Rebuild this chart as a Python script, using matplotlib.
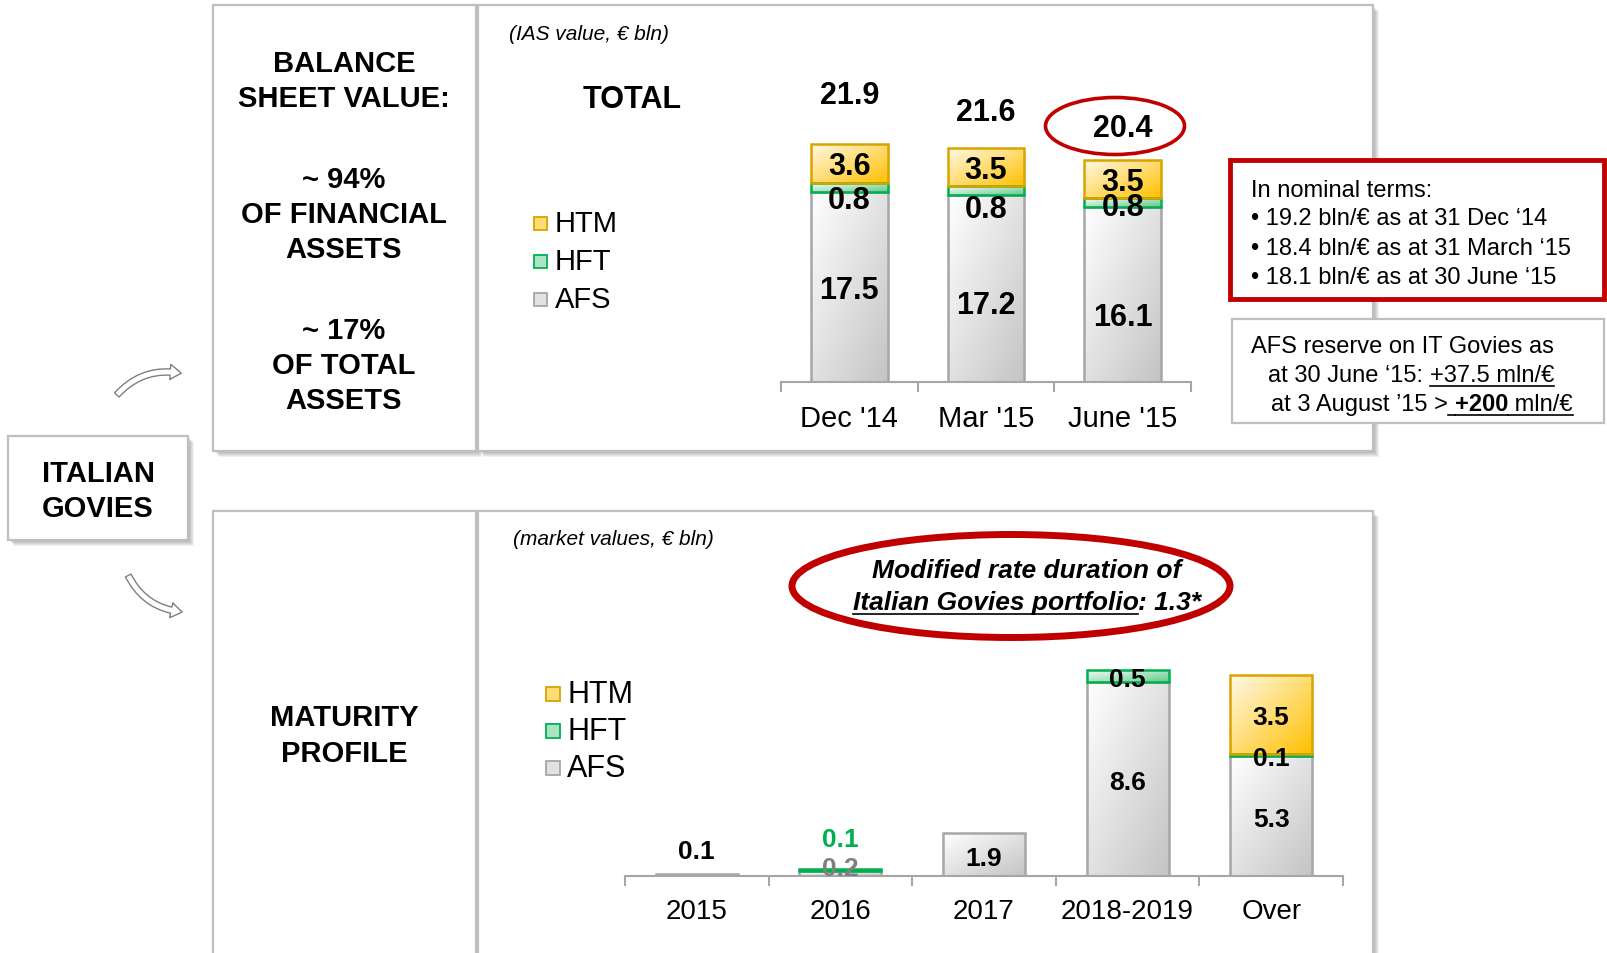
import numpy as np
import matplotlib
matplotlib.use("Agg")
import matplotlib.pyplot as plt
import matplotlib.colors as mcolors
import matplotlib.transforms as mtransforms
from matplotlib.patches import Rectangle, Ellipse, FancyArrowPatch

plt.rcParams["font.family"] = ["Liberation Sans", "DejaVu Sans"]

# ---------------- data ----------------
periods = ["Dec '14", "Mar '15", "June '15"]
afs_bs = [17.5, 17.2, 16.1]
hft_bs = [0.8, 0.8, 0.8]
htm_bs = [3.6, 3.5, 3.5]
total_bs = [21.9, 21.6, 20.4]

buckets = ["2015", "2016", "2017", "2018-2019", "Over"]
afs_mat = [0.1, 0.2, 1.9, 8.6, 5.3]
hft_mat = [0.0, 0.1, 0.0, 0.5, 0.1]
htm_mat = [0.0, 0.0, 0.0, 0.0, 3.5]

legend_labels = ["HTM", "HFT", "AFS"]
left_top_lines = ["BALANCE", "SHEET VALUE:", "~ 94%", "OF FINANCIAL", "ASSETS",
                  "~ 17%", "OF TOTAL", "ASSETS"]
nominal_lines = ["In nominal terms:",
                 "\u2022 19.2 bln/\u20ac as at 31 Dec \u201814",
                 "\u2022 18.4 bln/\u20ac as at 31 March \u201815",
                 "\u2022 18.1 bln/\u20ac as at 30 June \u201815"]

# ---------------- styles ----------------
C_AFS = ("#FFFFFF", "#C4C4C4", "#A6A6A6")
C_HFT = ("#F4FCF7", "#62CC8C", "#00B050")
C_HTM = ("#FFFAEA", "#FFC000", "#D9A400")
RED = "#C00000"
BORDER = "#BFBFBF"
DY = 3  # vertical text nudge in pixels

W, H = 1607, 954
fig = plt.figure(figsize=(W / 100, H / 100), dpi=100)
bg = fig.add_axes([0, 0, 1, 1])
bg.set_xlim(0, W)
bg.set_ylim(H, 0)
bg.axis("off")
bg.set_zorder(0)


def T(x, y, s, **kw):
    kw.setdefault("va", "center")
    kw.setdefault("zorder", 5)
    return bg.text(x, y + DY, s, **kw)


def panel(x0, y0, x1, y1, lw=1.6):
    for k in range(1, 7):
        bg.add_patch(Rectangle((x0 + k, y0 + k), x1 - x0, y1 - y0, facecolor="black",
                               alpha=0.055, edgecolor="none", zorder=1))
    bg.add_patch(Rectangle((x0, y0), x1 - x0, y1 - y0, facecolor="white",
                           edgecolor=BORDER, lw=lw, zorder=1.5))


panel(478, 6, 1373, 452)
panel(213, 6, 476, 452)
panel(478, 512, 1373, 964)
panel(213, 512, 476, 964)
panel(8, 437, 188, 541)

renderer = fig.canvas.get_renderer()


def text_width(t, fs, weight="normal", style="normal"):
    a = bg.text(0, 0, "|" + t + "|", fontsize=fs, fontweight=weight, fontstyle=style)
    b = bg.text(0, 0, "||", fontsize=fs, fontweight=weight, fontstyle=style)
    w = a.get_window_extent(renderer).width - b.get_window_extent(renderer).width
    a.remove()
    b.remove()
    return w


def runs_text(x, y, runs, fs, ha="left", color="black", uoff=None):
    widths = [text_width(t, fs, w, s) for (t, w, s, u) in runs]
    total = sum(widths)
    cx = x - total / 2 if ha == "center" else x
    if uoff is None:
        uoff = fs * 100 / 72 * 0.46
    for (t, w, s, u), wd in zip(runs, widths):
        T(cx, y, t, fontsize=fs, fontweight=w, fontstyle=s, ha="left", color=color)
        if u:
            bg.plot([cx, cx + wd], [y + DY + uoff, y + DY + uoff], color=color, lw=1.2, zorder=5)
        cx += wd


# ---------------- left column texts ----------------
ys_left = [61, 96, 177, 212, 247, 328, 363, 398]
for t, y in zip(left_top_lines, ys_left):
    T(344, y, t, fontsize=21, fontweight="bold", ha="center")
T(344, 715, "MATURITY", fontsize=21, fontweight="bold", ha="center")
T(344, 751, "PROFILE", fontsize=21, fontweight="bold", ha="center")
T(98, 471, "ITALIAN", fontsize=21, fontweight="bold", ha="center")
T(98, 506, "GOVIES", fontsize=21, fontweight="bold", ha="center")

# arrows
for (p0, p1, rad) in [((115, 398), (184, 375), -0.3), ((127, 574), (185, 613), 0.3)]:
    bg.add_patch(FancyArrowPatch(p0, p1, connectionstyle=f"arc3,rad={rad}",
                                 arrowstyle="simple,head_width=11,head_length=8,tail_width=4.5",
                                 facecolor="white", edgecolor="#7F7F7F", lw=1.0,
                                 mutation_scale=1, zorder=5))

# ---------------- captions ----------------
T(509, 32, "(IAS value, \u20ac bln)", fontsize=15, fontstyle="italic")
T(632, 97, "TOTAL", fontsize=22, fontweight="bold", ha="center")
T(513, 537, "(market values, \u20ac bln)", fontsize=15, fontstyle="italic")


# legends
def legend(x_sq, x_txt, ys, size, fs):
    for lab, cols, y in zip(legend_labels, [C_HTM, C_HFT, C_AFS], ys):
        mid = 0.5 * (np.array(mcolors.to_rgb(cols[0])) + np.array(mcolors.to_rgb(cols[1])))
        bg.add_patch(Rectangle((x_sq - size / 2, y + DY - size / 2), size, size,
                               facecolor=mid, edgecolor=cols[2], lw=1.3, zorder=5))
        T(x_txt, y, lab, fontsize=fs, ha="left")


legend(540, 555, [221, 259, 297], 13, 21)
legend(553, 567, [692, 729, 766], 14, 22)

# ---------------- right boxes ----------------
bg.add_patch(Rectangle((1230, 161), 374, 139, facecolor="white", edgecolor=RED, lw=3.5, zorder=3))
for t, y in zip(nominal_lines, [188, 216, 246, 275]):
    T(1251, y, t, fontsize=17, ha="left")

bg.add_patch(Rectangle((1232, 320), 372, 104, facecolor="white", edgecolor=BORDER, lw=1.6, zorder=3))
T(1251, 344, "AFS reserve on IT Govies as", fontsize=17)
runs_text(1268, 373, [("at 30 June \u201815: ", "normal", "normal", False),
                      ("+37.5 mln/\u20ac", "normal", "normal", True)], 17)
runs_text(1271, 402, [("at 3 August \u201915 >", "normal", "normal", False),
                      (" ", "normal", "normal", True),
                      ("+200", "bold", "normal", True),
                      (" mln/\u20ac", "normal", "normal", True)], 17)

# ellipses
bg.add_patch(Ellipse((1115, 127), 139, 57, fill=False, edgecolor=RED, lw=2.6, zorder=4))
bg.add_patch(Ellipse((1011, 587), 438, 103, fill=False, edgecolor=RED, lw=5, zorder=4))
T(1027, 568, "Modified rate duration of", fontsize=19, fontweight="bold",
  fontstyle="italic", ha="center")
runs_text(1027, 600, [("Italian Govies portfolio", "bold", "italic", True),
                      (": 1.3*", "bold", "italic", False)], 19, ha="center")


# ---------------- bar charts ----------------
def grad(ax, rect, c_light, c_dark):
    x0, y0 = rect.get_x(), rect.get_y()
    w, h = rect.get_width(), rect.get_height()
    n = 60
    xx, yy = np.meshgrid(np.linspace(0, 1, n), np.linspace(0, 1, n))
    t = np.clip((xx + (1 - yy)) / 2, 0, 1)[..., None]
    c1 = np.array(mcolors.to_rgb(c_light))
    c2 = np.array(mcolors.to_rgb(c_dark))
    img = c1 * (1 - t) + c2 * t
    im = ax.imshow(img, extent=(x0, x0 + w, y0, y0 + h), origin="lower", aspect="auto",
                   interpolation="bilinear", zorder=2)
    im.set_clip_path(rect)


def stacked(ax, layers, width):
    n = len(layers[0][0])
    bottoms = np.zeros(n)
    for vals, (cl, cd, ce) in layers:
        vals = np.asarray(vals, float)
        for i in range(n):
            if vals[i] > 0:
                r = ax.bar(i, vals[i], width, bottom=bottoms[i], facecolor="none",
                           edgecolor=ce, linewidth=1.8, zorder=3)[0]
                grad(ax, r, cl, cd)
        bottoms = bottoms + vals
    return bottoms


def style_axis(ax, labels, fs, pad):
    n = len(labels)
    ax.set_xlim(-0.5, n - 0.5)
    ax.set_xticks([i - 0.5 for i in range(n + 1)])
    ax.set_xticklabels([])
    ax.tick_params(axis="x", which="major", length=7.2, width=1.5, color="#A6A6A6", direction="out")
    ax.set_xticks(range(n), minor=True)
    ax.set_xticklabels(labels, minor=True, fontsize=fs)
    ax.tick_params(axis="x", which="minor", length=0, pad=pad)
    ax.set_yticks([])
    for s in ["top", "right", "left"]:
        ax.spines[s].set_visible(False)
    ax.spines["bottom"].set_color("#A6A6A6")
    ax.spines["bottom"].set_linewidth(1.5)
    ax.patch.set_alpha(0)


nudge = mtransforms.ScaledTranslation(0, -DY / 100, fig.dpi_scale_trans)

# top chart
axT = fig.add_axes([781 / W, (H - 383) / H, 410 / W, 323 / H])
axT.set_zorder(2)
stacked(axT, [(afs_bs, C_AFS), (hft_bs, C_HFT), (htm_bs, C_HTM)], 0.56)
style_axis(axT, periods, 21, 15.8)
axT.set_ylim(0, 323 / 10.88)

hft_drop = [0.5, 1.0, -0.25]
afs_frac = [0.5, 0.43, 0.39]
total_pad = [4.75, 3.6, 3.2]
lab = dict(fontsize=22, fontweight="bold", ha="center", va="center", zorder=6,
           transform=axT.transData + nudge)
for i in range(len(periods)):
    a, f, m = afs_bs[i], hft_bs[i], htm_bs[i]
    axT.text(i, a + f + m / 2, f"{m:.1f}", **lab)
    axT.text(i, a - hft_drop[i], f"{f:.1f}", **lab)
    axT.text(i, a * afs_frac[i], f"{a:.1f}", **lab)
    axT.text(i, a + f + m + total_pad[i], f"{total_bs[i]:.1f}", **lab)

# bottom chart
axB = fig.add_axes([625 / W, (H - 877) / H, 718 / W, 277 / H])
axB.set_zorder(2)
stacked(axB, [(afs_mat, C_AFS), (hft_mat, C_HFT), (htm_mat, C_HTM)], 0.57)
style_axis(axB, buckets, 20, 15.8)
axB.set_ylim(0, 277 / 22.6)

labB = dict(fontsize=19, fontweight="bold", ha="center", va="center", zorder=6,
            transform=axB.transData + nudge)
for i in range(len(buckets)):
    a, f, m = afs_mat[i], hft_mat[i], htm_mat[i]
    tot = a + f + m
    if tot < 1:
        if f > 0:
            axB.text(i, tot + 0.2, f"{a:.1f}", color="#808080", **labB)
            axB.text(i, tot + 1.45, f"{f:.1f}", color="#00B050", **labB)
        else:
            axB.text(i, tot + 1.15, f"{a:.1f}", color="black", **labB)
    else:
        axB.text(i, a / 2, f"{a:.1f}", **labB)
        if f > 0:
            axB.text(i, a + f / 2, f"{f:.1f}", **labB)
        if m > 0:
            axB.text(i, a + f + m / 2, f"{m:.1f}", **labB)

fig.savefig("out.png", dpi=100)
